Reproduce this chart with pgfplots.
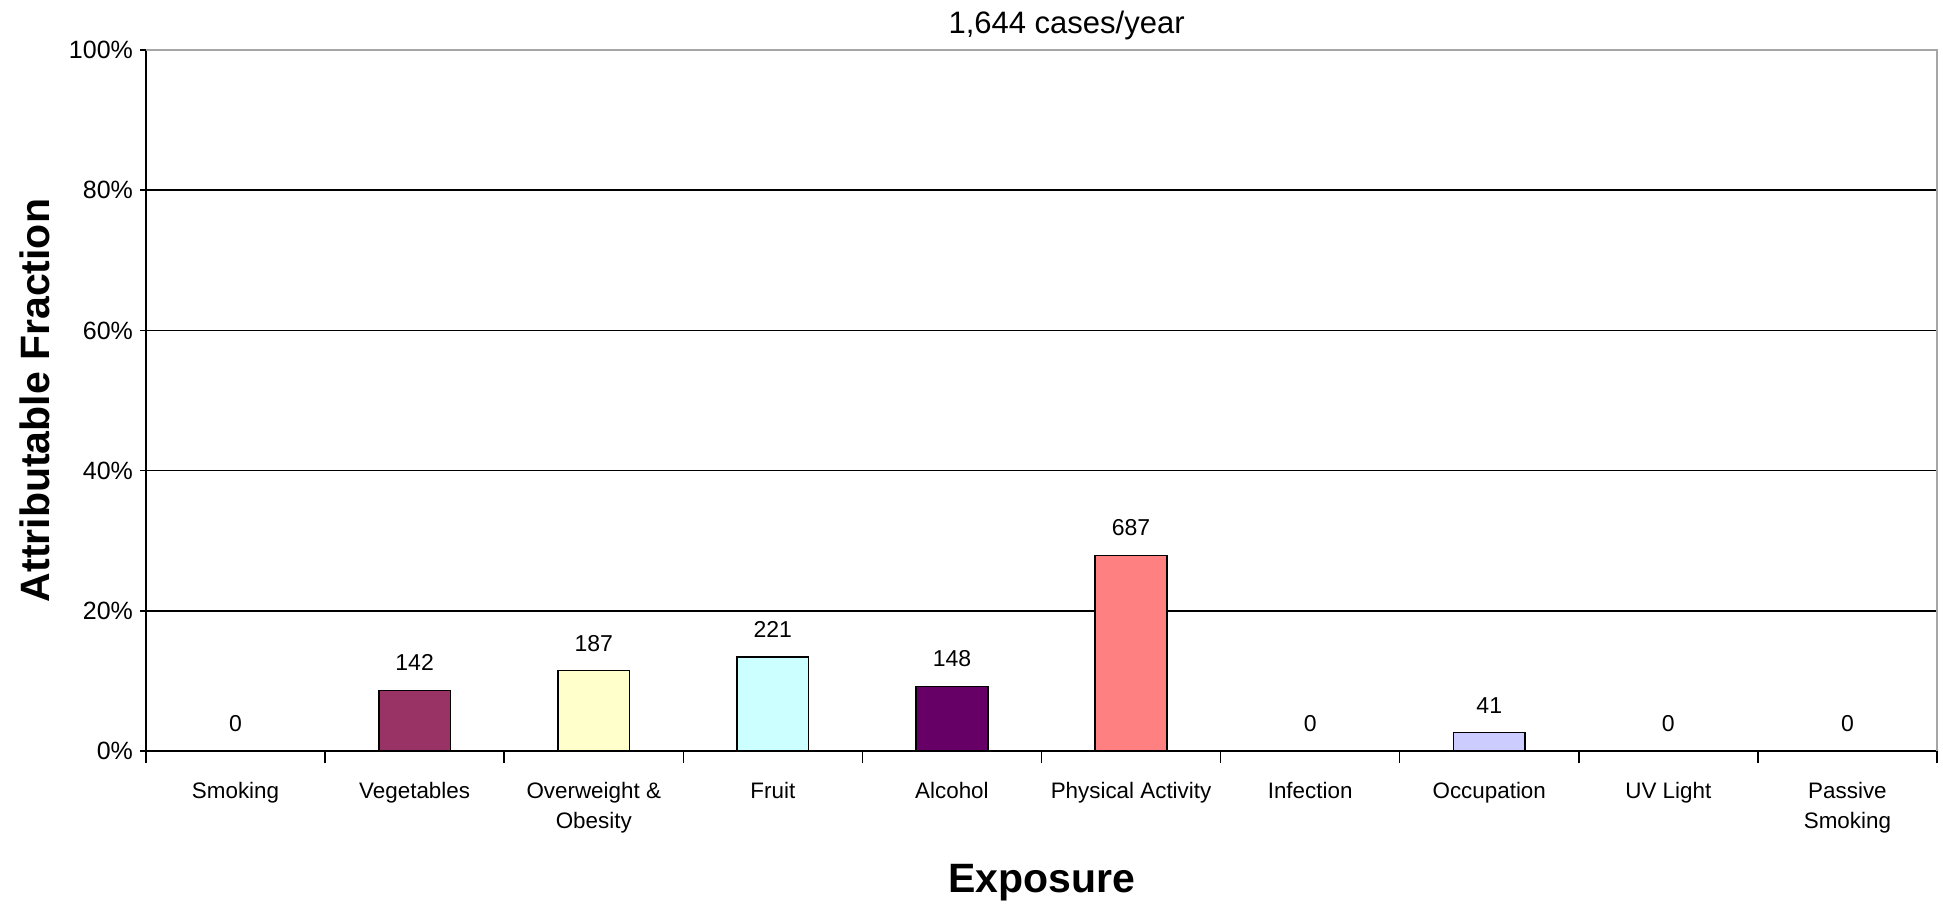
\documentclass[border=0pt]{standalone}
\usepackage{pgfplots}
\pgfplotsset{compat=1.18}
\usepackage{fontspec}
\setmainfont{Liberation Sans}
\definecolor{vegc}{HTML}{993366}
\definecolor{owc}{HTML}{FFFFCC}
\definecolor{fruitc}{HTML}{CCFFFF}
\definecolor{alcc}{HTML}{660066}
\definecolor{pac}{HTML}{FF8080}
\definecolor{occc}{HTML}{CCCCFF}
\begin{document}
\begin{tikzpicture}
\begin{axis}[
  scale only axis, width=895.5pt, height=350.5pt,
  xmin=-0.5, xmax=9.5, ymin=0, ymax=100,
  axis x line*=bottom, axis y line*=left,
  axis line style={line width=0.75pt, black, -},
  /pgf/number format/assume math mode=true,
  tick align=outside,
  major tick length=3pt,
  tick style={black, line width=0.75pt},
  xtick={0,...,9},
  xticklabels={Smoking,Vegetables,{Overweight \&\\Obesity},Fruit,Alcohol,Physical Activity,Infection,Occupation,UV Light,{Passive\\Smoking}},
  major x tick style={draw=none},
  extra x ticks={-0.5,0.5,...,9.5},
  extra x tick labels={},
  extra x tick style={major x tick style={draw=black, line width=0.75pt}, major tick length=6pt},
  xticklabel style={align=center, font=\fontsize{11.2}{15}\selectfont, yshift=-9pt},
  ytick={0,20,...,100},
  yticklabel={\pgfmathprintnumber{\tick}\%},
  yticklabel style={font=\fontsize{12.5}{14}\selectfont},
  ymajorgrids, grid style={black, line width=0.75pt},
  title={1,644 cases/year},
  title style={at={(axis description cs:0.514,1)}, anchor=center, yshift=6.3pt, font=\fontsize{15.5}{18}\selectfont},
  xlabel={Exposure},
  xlabel style={at={(axis description cs:0.5,-0.1883)}, anchor=center, font=\fontsize{20.5}{24}\selectfont\bfseries},
  ylabel={Attributable Fraction},
  ylabel style={at={(axis description cs:-0.062,0.5)}, anchor=center, font=\fontsize{20.5}{24}\selectfont\bfseries},
  every axis plot/.append style={ybar, bar width=0.4, bar shift=0pt, draw=black, line width=0.75pt},
  clip=false,
]
\addplot[fill=vegc] coordinates {(1,8.66)};
\addplot[fill=owc] coordinates {(2,11.45)};
\addplot[fill=fruitc] coordinates {(3,13.4)};
\addplot[fill=alcc] coordinates {(4,9.2)};
\addplot[fill=pac] coordinates {(5,27.9)};
\addplot[fill=occc] coordinates {(7,2.65)};
\addplot[draw=none, fill=none, point meta=explicit symbolic,
  nodes near coords,
  every node near coord/.append style={font=\fontsize{11.5}{13}\selectfont, yshift=6pt, text=black}]
  table[meta=lab] {
x y lab
0 0 0
1 8.66 142
2 11.45 187
3 13.4 221
4 9.2 148
5 27.9 687
6 0 0
7 2.65 41
8 0 0
9 0 0
};
\draw[gray!70, line width=1pt] (rel axis cs:0,1) -- (rel axis cs:1,1) -- (rel axis cs:1,0);
\coordinate (ll) at (rel axis cs:0,0);
\end{axis}
\pgfresetboundingbox
\path (ll) ++(-73pt,-77pt) rectangle ++(971.5pt,452.5pt);
\end{tikzpicture}
\end{document}
